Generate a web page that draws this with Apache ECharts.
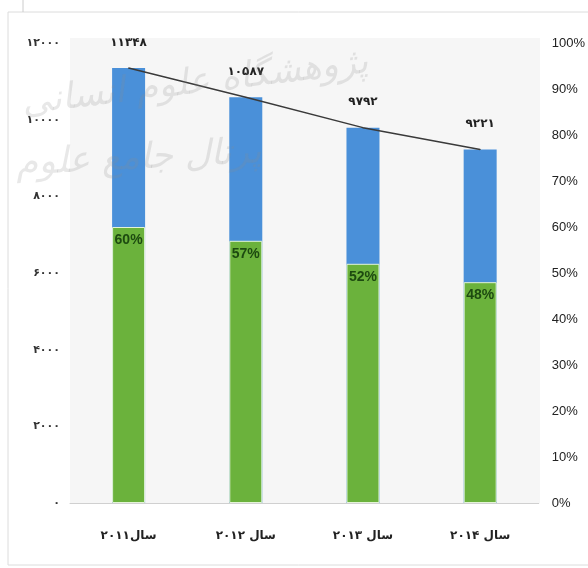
<!DOCTYPE html>
<html>
<head>
<meta charset="utf-8">
<script src="https://cdn.jsdelivr.net/npm/echarts@6/dist/echarts.min.js"></script>
<style>
html,body{margin:0;padding:0;background:#fff;}
#chart{width:588px;height:568px;}
</style>
</head>
<body>
<div id="chart"></div>
<script>
var categories = ['سال۲۰۱۱', 'سال ۲۰۱۲', 'سال ۲۰۱۳', 'سال ۲۰۱۴'];
var totals = [11348, 10587, 9792, 9221];
var shares = [60, 57, 52, 48];
var leftMin = 0, leftMax = 12000, leftStep = 2000;
var rightMin = 0, rightMax = 100, rightStep = 10;

function fa(n) {
  return String(n).replace(/[0-9]/g, function (d) { return '۰۱۲۳۴۵۶۷۸۹'[+d]; });
}

var chart = echarts.init(document.getElementById('chart'));
chart.setOption({
  animation: false,
  backgroundColor: '#ffffff',
  graphic: [
    { type: 'rect', shape: { x: 8, y: 12, width: 590, height: 553 }, style: { fill: 'none', stroke: '#dcdcdc', lineWidth: 1 }, z: -10 },
    { type: 'rect', shape: { x: 70, y: 38, width: 470, height: 465 }, style: { fill: '#f6f6f6' }, z: -9 },
    { type: 'line', shape: { x1: 23, y1: 0, x2: 23, y2: 12 }, style: { stroke: '#cccccc', lineWidth: 1 }, z: -10 },
    { type: 'text', left: 20, top: 45, rotation: 0.12, z: 100,
      style: { text: 'پژوهشگاه علوم انسانی', font: 'italic 36px "DejaVu Sans"', fill: 'rgba(140,140,140,0.2)' } },
    { type: 'text', left: 15, top: 135, rotation: 0.05, z: 100,
      style: { text: 'پرتال جامع علوم', font: 'italic 36px "DejaVu Sans"', fill: 'rgba(140,140,140,0.2)' } }
  ],
  grid: { left: 70, right: 48, top: 43, bottom: 65, containLabel: false },
  xAxis: {
    type: 'category',
    data: categories,
    axisLine: { show: true, lineStyle: { color: '#d0d0d0', width: 1 } },
    axisTick: { show: false },
    axisLabel: { margin: 27, color: '#222', fontFamily: 'DejaVu Sans', fontWeight: 'bold', fontSize: 12 }
  },
  yAxis: [
    {
      type: 'value', min: leftMin, max: leftMax, interval: leftStep,
      splitLine: { show: false }, axisLine: { show: false }, axisTick: { show: false },
      axisLabel: { margin: 10, color: '#333', fontFamily: 'DejaVu Sans', fontWeight: 'bold', fontSize: 11,
        formatter: function (v) { return fa(v); } }
    },
    {
      type: 'value', min: rightMin, max: rightMax, interval: rightStep, position: 'right',
      splitLine: { show: false }, axisLine: { show: false }, axisTick: { show: false },
      axisLabel: { margin: 13, color: '#222', fontFamily: '"Liberation Sans Narrow", "Liberation Sans", sans-serif', fontSize: 13,
        formatter: '{value}%' }
    }
  ],
  series: [
    {
      type: 'bar', name: 'total', yAxisIndex: 0, data: totals, barWidth: 33, barGap: '-100%',
      itemStyle: { color: '#4a90d9' }, z: 2
    },
    {
      type: 'bar', name: 'share', yAxisIndex: 1, data: shares, barWidth: 33, barGap: '-100%',
      itemStyle: { color: '#6bb23c', borderColor: '#e4f4d8', borderWidth: 1 }, z: 3,
      label: { show: true, position: 'insideTop', distance: 6, formatter: '{c}%', color: '#1d4a10',
        fontFamily: '"Liberation Sans Narrow", "Liberation Sans", sans-serif', fontWeight: 'bold', fontSize: 14 }
    },
    {
      type: 'line', name: 'line', yAxisIndex: 0, data: totals, symbol: 'circle', symbolSize: 1, showSymbol: true, z: 5,
      itemStyle: { color: '#3a3a3a' },
      lineStyle: { color: '#3a3a3a', width: 1.5 },
      label: { show: true, position: 'top', distance: 19, color: '#222', fontFamily: 'DejaVu Sans', fontWeight: 'bold', fontSize: 12,
        formatter: function (p) { return fa(p.value); } }
    }
  ]
});
</script>
</body>
</html>
